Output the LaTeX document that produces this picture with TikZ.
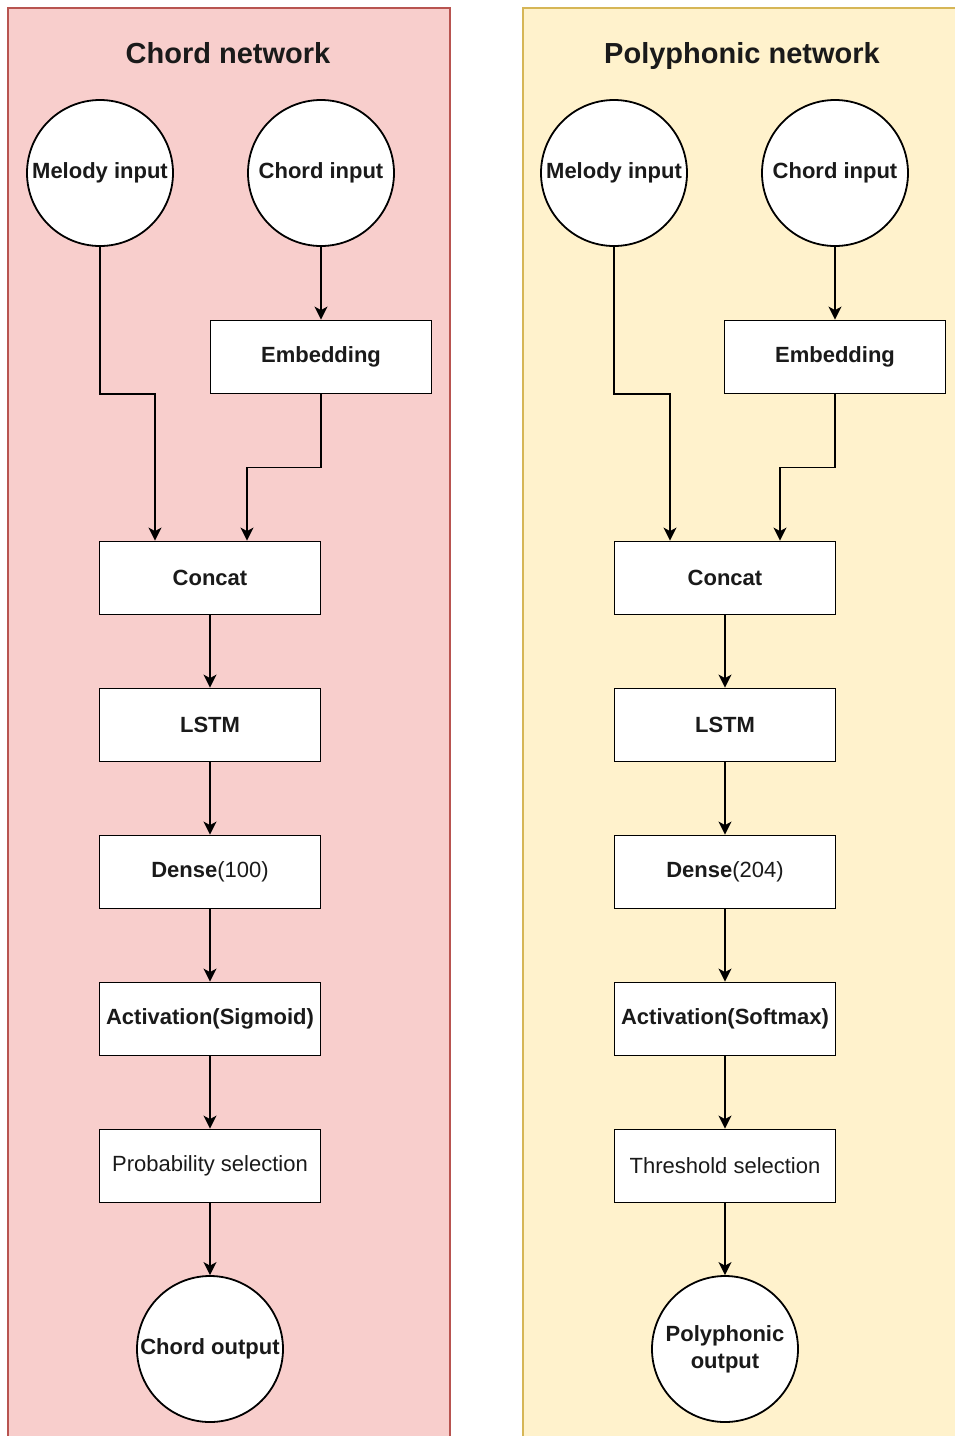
\documentclass[tikz,border=0pt]{standalone}
\usepackage{fontspec}
\setmainfont{Liberation Sans}
\usetikzlibrary{arrows.meta}

\definecolor{chordfill}{HTML}{F8CECC}
\definecolor{chordline}{HTML}{B85450}
\definecolor{polyfill}{HTML}{FFF2CC}
\definecolor{polyline}{HTML}{D6B656}
\definecolor{ink}{HTML}{1A1A1A}

\tikzset{
  panel/.style={line width=1.5pt},
  title/.style={font=\fontsize{29}{34}\selectfont\bfseries, text=ink, anchor=base},
  layer/.style={draw=black, fill=white, line width=1.8pt, rectangle,
    minimum width=221pt, minimum height=73pt, inner sep=0pt,
    font=\fontsize{22}{27}\selectfont\bfseries, text=ink},
  plain/.style={layer, font=\fontsize{22}{27}\selectfont},
  port/.style={draw=black, fill=white, line width=1.8pt, circle,
    minimum size=146pt, inner sep=0pt, align=center,
    font=\fontsize{22}{27}\selectfont\bfseries, text=ink},
  arr/.style={draw=black, line width=1.8pt,
    -{Stealth[length=13pt, width=13pt, inset=3.5pt]}}
}

\begin{document}
\begin{tikzpicture}[x=1pt, y=-1pt]
  \useasboundingbox (0,0) rectangle (955,1436);
  \clip (0,0) rectangle (955,1436);

  % background panels
  \draw[panel, fill=chordfill, draw=chordline] (8,8) rectangle (450,1450);
  \draw[panel, fill=polyfill, draw=polyline] (523,8) rectangle (970,1450);

  % ---------- chord network ----------
  \node[title] (t1) at (228,63) {Chord network};
  \node[port] (mel1) at (100,173) {Melody input};
  \node[port] (chi1) at (321,173) {Chord input};
  \node[layer] (emb1) at (321,357) {Embedding};
  \node[layer] (cat1) at (210,578) {Concat};
  \node[layer] (lstm1) at (210,725) {LSTM};
  \node[layer] (den1) at (210,872) {Dense\mdseries(100)};
  \node[layer] (act1) at (210,1019) {Activation(Sigmoid)};
  \node[plain] (sel1) at (210,1166) {Probability selection};
  \node[port] (out1) at (210,1349) {Chord output};

  \draw[arr] (chi1) -- (emb1);
  \draw[arr] (mel1.south) -- ++(0,147) -| ([xshift=-55pt]cat1.north);
  \draw[arr] (emb1.south) -- ++(0,73) -| ([xshift=37pt]cat1.north);
  \draw[arr] (cat1) -- (lstm1);
  \draw[arr] (lstm1) -- (den1);
  \draw[arr] (den1) -- (act1);
  \draw[arr] (act1) -- (sel1);
  \draw[arr] (sel1) -- (out1);

  % ---------- polyphonic network ----------
  \node[title] (t2) at (742,63) {Polyphonic network};
  \node[port] (mel2) at (614,173) {Melody input};
  \node[port] (chi2) at (835,173) {Chord input};
  \node[layer] (emb2) at (835,357) {Embedding};
  \node[layer] (cat2) at (725,578) {Concat};
  \node[layer] (lstm2) at (725,725) {LSTM};
  \node[layer] (den2) at (725,872) {Dense\mdseries(204)};
  \node[layer] (act2) at (725,1019) {Activation(Softmax)};
  \node[plain] (sel2) at (725,1166) {Threshold selection};
  \node[port] (out2) at (725,1349) {Polyphonic\\output};

  \draw[arr] (chi2) -- (emb2);
  \draw[arr] (mel2.south) -- ++(0,147) -| ([xshift=-55pt]cat2.north);
  \draw[arr] (emb2.south) -- ++(0,73) -| ([xshift=55pt]cat2.north);
  \draw[arr] (cat2) -- (lstm2);
  \draw[arr] (lstm2) -- (den2);
  \draw[arr] (den2) -- (act2);
  \draw[arr] (act2) -- (sel2);
  \draw[arr] (sel2) -- (out2);
\end{tikzpicture}
\end{document}
